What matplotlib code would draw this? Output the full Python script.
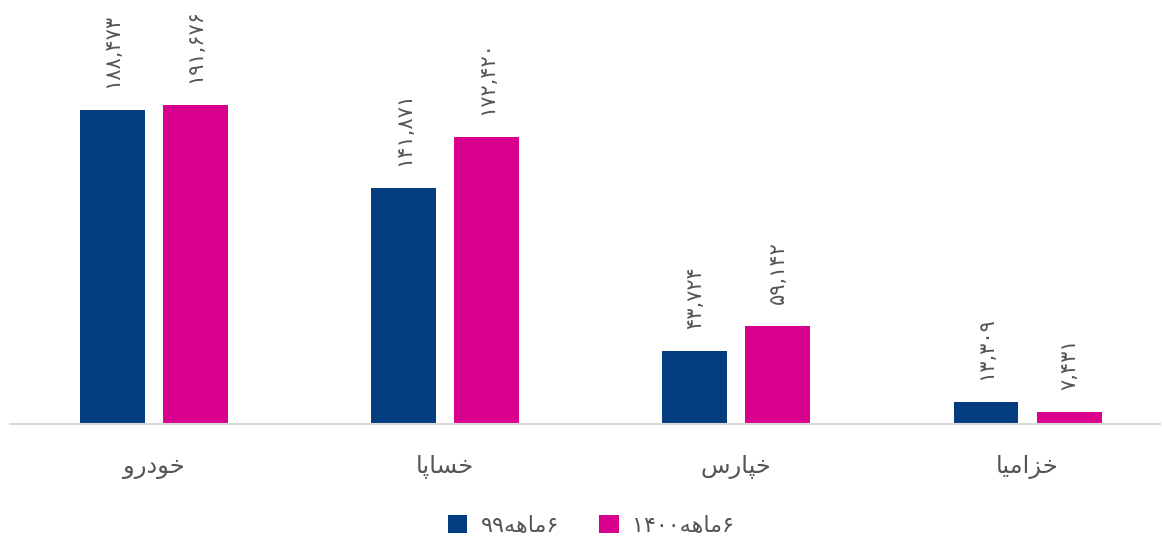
import numpy as np
import matplotlib.pyplot as plt

# Persian text written in shaped presentation forms, visual (left-to-right) order
categories = ['\uFEED\uFEAD\uFEA9\uFEEE\uFEA7',          # خودرو
              '\uFE8E\uFB58\uFE8E\uFEB4\uFEA7',          # خساپا
              '\uFEB1\uFEAD\uFE8E\uFB59\uFEA7',          # خپارس
              '\uFE8E\uFBFF\uFEE3\uFE8D\uFEB0\uFEA7']    # خزامیا
values_99 = [188473, 141871, 43724, 13309]
values_1400 = [191676, 172420, 59142, 7431]
mahe = '\uFEEA\uFEEB\uFE8E\uFEE3'
series_labels = ['۹۹' + mahe + '۶', '۱۴۰۰' + mahe + '۶']

navy = '#033c7f'
magenta = '#d8008c'
grey = '#555555'

fa_digits = str.maketrans('0123456789', '۰۱۲۳۴۵۶۷۸۹')


def fa(v):
    return f'{v:,}'.translate(fa_digits)


fig = plt.figure(figsize=(11.62, 5.38), dpi=100)
ax = fig.add_axes([10 / 1162, 1 - 424 / 538, 1150 / 1162, 424 / 538])

x = np.arange(len(categories))
w = 0.223
off = 0.1426
b1 = ax.bar(x - off, values_99, w, color=navy, label=series_labels[0])
b2 = ax.bar(x + off, values_1400, w, color=magenta, label=series_labels[1])

for bars, vals in ((b1, values_99), (b2, values_1400)):
    for r, v in zip(bars, vals):
        ax.annotate(fa(v), (r.get_x() + r.get_width() / 2, r.get_height()),
                    xytext=(0, 22), textcoords='offset pixels',
                    rotation=90, ha='center', va='bottom',
                    fontsize=15, color=grey)

ax.set_xlim(-0.495, 3.455)
ax.set_ylim(0, 254800)
ax.set_xticks(x)
ax.set_xticklabels(categories, fontsize=17.5, color=grey)
ax.tick_params(axis='x', length=0, pad=22)
ax.set_yticks([])
for s in ('top', 'left', 'right'):
    ax.spines[s].set_visible(False)
ax.spines['bottom'].set_color('#d9d9d9')
ax.spines['bottom'].set_linewidth(1.5)

fig.legend(handles=[b1, b2], labels=series_labels, loc='center',
           bbox_to_anchor=(591 / 1162, 1 - 525 / 538), ncol=2, frameon=False,
           fontsize=16, labelcolor=grey, handlelength=0.88, handleheight=0.88,
           columnspacing=1.8, handletextpad=0.6)

fig.savefig('out.png', dpi=100, facecolor='white')
